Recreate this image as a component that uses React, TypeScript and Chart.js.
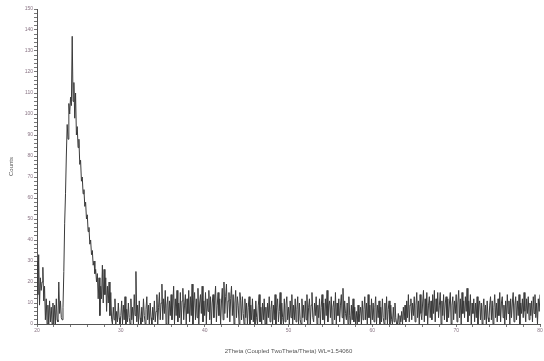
import React, { useEffect, useRef } from "react";
import { Chart, registerables } from "chart.js";

Chart.register(...registerables);

const START_ANGLE = 20;
const STEP = 0.1;
// counts per 0.1° step, one row per degree (20.0 .. 80.0)
const counts: number[] = [
  30, 14, 33, 9, 22, 16, 20, 27, 11, 18,
  2, 12, 0, 9, 0, 11, 1, 8, 0, 10,
  0, 9, 0, 12, 2, 1, 20, 5, 11, 3,
  2, 8, 25, 48, 62, 80, 95, 88, 105, 100,
  108, 104, 137, 106, 115, 98, 110, 90, 94, 84,
  88, 76, 78, 68, 70, 62, 64, 56, 58, 50,
  52, 44, 46, 38, 40, 33, 35, 28, 30, 24,
  26, 20, 24, 12, 22, 4, 18, 12, 28, 10,
  26, 14, 22, 6, 18, 10, 20, 4, 15, 2,
  0, 8, 2, 12, 0, 6, 1, 10, 3, 0,
  4, 11, 0, 9, 2, 13, 0, 7, 1, 10,
  3, 0, 12, 2, 8, 0, 14, 4, 25, 1,
  9, 0, 11, 3, 0, 8, 1, 12, 4, 0,
  7, 13, 2, 9, 0, 10, 3, 0, 8, 2,
  11, 1, 6, 14, 0, 8, 15, 2, 10, 19,
  2, 12, 5, 16, 0, 9, 13, 0, 11, 4,
  14, 2, 9, 18, 0, 12, 4, 16, 1, 10,
  3, 15, 0, 11, 17, 2, 9, 14, 0, 12,
  5, 16, 1, 13, 4, 19, 0, 11, 15, 2,
  12, 3, 17, 0, 10, 14, 5, 18, 1, 11,
  4, 15, 0, 12, 6, 16, 2, 13, 0, 10,
  14, 3, 11, 18, 1, 9, 15, 4, 12, 0,
  10, 17, 2, 20, 5, 13, 19, 3, 11, 15,
  1, 12, 18, 4, 14, 0, 10, 16, 3, 13,
  9, 0, 15, 11, 2, 13, 5, 0, 12, 3,
  10, 0, 8, 13, 0, 9, 2, 12, 1, 7,
  0, 11, 3, 0, 9, 14, 1, 8, 0, 10,
  2, 12, 0, 8, 0, 10, 3, 13, 1, 7,
  11, 0, 9, 2, 14, 0, 8, 12, 1, 6,
  15, 0, 10, 3, 0, 12, 1, 9, 13, 2,
  8, 0, 11, 3, 14, 0, 9, 2, 12, 1,
  7, 13, 0, 10, 2, 0, 12, 3, 9, 1,
  11, 2, 14, 0, 8, 12, 0, 9, 15, 3,
  1, 10, 4, 13, 0, 9, 3, 12, 0, 8,
  14, 2, 10, 0, 12, 4, 16, 1, 9, 11,
  3, 13, 0, 8, 11, 2, 15, 0, 10, 4,
  12, 1, 9, 14, 3, 17, 0, 11, 5, 2,
  10, 0, 13, 4, 0, 9, 2, 12, 1, 8,
  0, 6, 0, 9, 1, 5, 8, 0, 11, 2,
  7, 13, 2, 10, 0, 14, 3, 9, 0, 12,
  2, 10, 1, 8, 13, 0, 9, 3, 11, 0,
  8, 1, 12, 3, 0, 10, 2, 13, 0, 7,
  11, 0, 9, 2, 0, 8, 1, 10, 3, 0,
  0, 5, 0, 4, 1, 6, 0, 8, 2, 9,
  1, 11, 3, 14, 1, 9, 12, 2, 10, 4,
  13, 1, 9, 15, 3, 11, 0, 14, 5, 2,
  10, 16, 1, 12, 4, 15, 0, 9, 13, 3,
  11, 2, 14, 5, 16, 1, 12, 6, 15, 3,
  9, 15, 0, 11, 4, 14, 2, 10, 13, 1,
  12, 3, 10, 15, 0, 9, 13, 2, 11, 5,
  14, 1, 10, 16, 3, 12, 0, 15, 5, 11,
  3, 13, 6, 17, 1, 11, 4, 14, 0, 10,
  5, 12, 1, 10, 3, 13, 0, 9, 11, 2,
  10, 0, 8, 12, 2, 9, 0, 11, 3, 1,
  9, 13, 2, 11, 0, 8, 14, 3, 10, 1,
  12, 4, 15, 1, 10, 13, 3, 9, 0, 11,
  2, 14, 5, 11, 0, 12, 3, 10, 15, 1,
  9, 13, 2, 11, 4, 14, 0, 10, 5, 12,
  3, 15, 6, 1, 12, 5, 13, 2, 10, 4,
  11, 1, 13, 5, 14, 3, 10, 0, 12, 6,
  14,
];

const X_MIN = 20;
const X_MAX = 80;
const Y_MIN = 0;
const Y_MAX = 150;
const xTitle = "2Theta (Coupled TwoTheta/Theta) WL=1.54060";
const yTitle = "Counts";

export default function App() {
  const ref = useRef<HTMLCanvasElement | null>(null);
  useEffect(() => {
    if (!ref.current) return;
    const points = counts.map((c, i) => ({
      x: Math.round((START_ANGLE + i * STEP) * 10) / 10,
      y: c,
    }));
    const tickFont = { family: "Liberation Sans, Arial, sans-serif", size: 5 };
    const chart = new Chart(ref.current, {
      type: "line",
      data: {
        datasets: [
          {
            data: points,
            borderColor: "#3a3a3a",
            borderWidth: 1,
            pointRadius: 0,
            tension: 0,
            fill: false,
          },
        ],
      },
      options: {
        animation: false,
        responsive: false,
        layout: { padding: { left: 0, right: 4, top: 9, bottom: 0 } },
        plugins: { legend: { display: false }, tooltip: { enabled: false } },
        scales: {
          x: {
            type: "linear",
            min: X_MIN,
            max: X_MAX,
            border: { display: true, color: "#555", width: 1 },
            grid: {
              display: true,
              drawOnChartArea: false,
              tickLength: 3,
              color: "#777",
            },
            ticks: {
              stepSize: 2,
              autoSkip: false,
              maxRotation: 0,
              padding: 1,
              color: "#8a7585",
              font: tickFont,
              callback: (v: any) => (Number(v) % 10 === 0 ? String(v) : ""),
            },
            title: {
              display: true,
              text: xTitle,
              color: "#555",
              font: { family: "Liberation Sans, Arial, sans-serif", size: 6 },
              padding: { top: 0, bottom: 6 },
            },
            afterFit: (s: any) => {
              s.height = 37;
            },
          },
          y: {
            min: Y_MIN,
            max: Y_MAX,
            border: { display: true, color: "#555", width: 1 },
            grid: {
              display: true,
              drawOnChartArea: false,
              tickLength: 3,
              color: "#777",
            },
            ticks: {
              stepSize: 2,
              autoSkip: false,
              padding: 1,
              color: "#8a7585",
              font: tickFont,
              callback: (v: any) => (Number(v) % 10 === 0 ? String(v) : ""),
            },
            title: {
              display: true,
              text: yTitle,
              color: "#555",
              font: { family: "Liberation Sans, Arial, sans-serif", size: 6 },
              padding: { top: 8, bottom: 0 },
            },
            afterFit: (s: any) => {
              s.width = 37;
            },
          },
        },
      },
    } as any);
    return () => chart.destroy();
  }, []);
  return (
    <div style={{ position: "fixed", left: 0, top: 0, width: 544, height: 361, background: "#fff" }}>
      <canvas ref={ref} width={544} height={361} style={{ display: "block" }} />
    </div>
  );
}
